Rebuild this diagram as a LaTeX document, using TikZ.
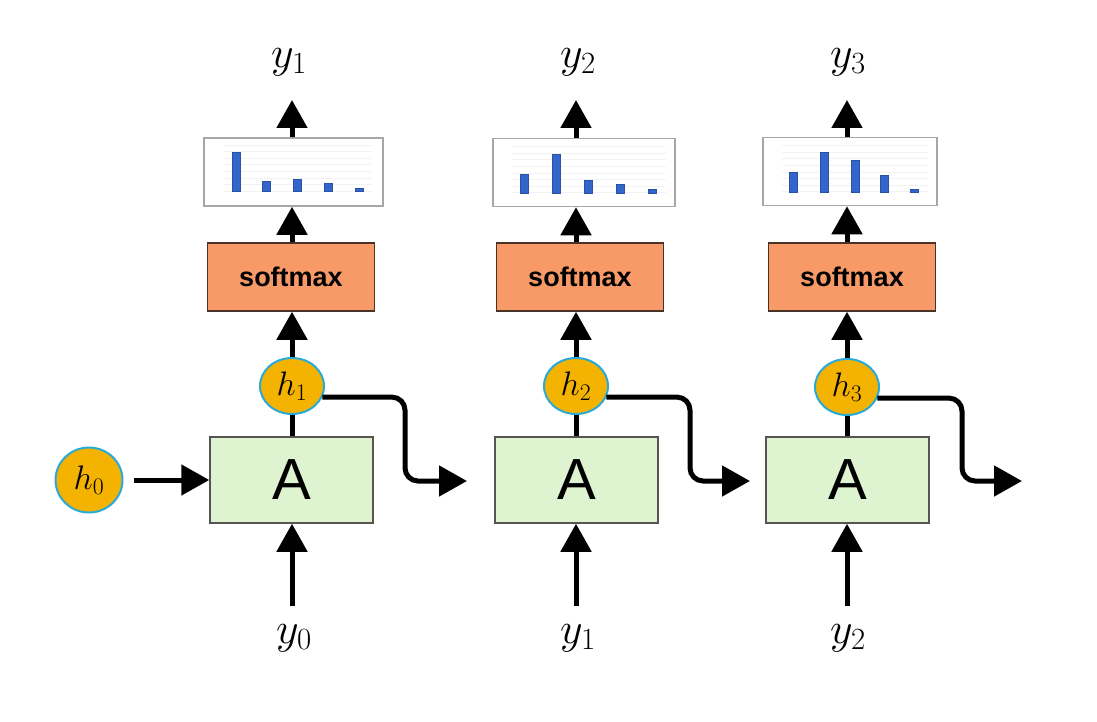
\RequirePackage{fix-cm}
\documentclass[tikz,border=0pt]{standalone}
\usepackage{fontspec}
\newfontfamily\sansA{Liberation Sans}
\usetikzlibrary{arrows.meta,shapes.geometric}
\definecolor{agreen}{HTML}{DEF3D0}
\definecolor{aborder}{HTML}{555555}
\definecolor{smfill}{HTML}{F89A68}
\definecolor{smborder}{HTML}{4A3326}
\definecolor{hfill}{HTML}{F4B300}
\definecolor{hborder}{HTML}{2AAAD8}
\definecolor{barblue}{HTML}{3366CC}
\tikzset{
  abox/.style={draw=aborder, fill=agreen, line width=1.5pt, minimum width=163pt, minimum height=86pt, inner sep=0pt, font=\sansA\fontsize{58}{60}\selectfont},
  smbox/.style={draw=smborder, fill=smfill, line width=1.5pt, minimum width=167pt, minimum height=68pt, inner sep=0pt, font=\sansA\bfseries\fontsize{27}{30}\selectfont},
  hnode/.style={ellipse, draw=hborder, fill=hfill, line width=2pt, minimum width=64pt, minimum height=56pt, inner sep=0pt, font=\fontsize{34}{36}\selectfont},
  chartbox/.style={draw=gray!70, fill=white, line width=1.5pt, minimum height=68pt, inner sep=0pt},
  lab/.style={font=\fontsize{44}{50}\selectfont, inner sep=0pt},
  arr/.style={line width=5pt, -{Triangle[length=28pt,width=30pt]}},
  ln/.style={line width=5pt},
  grid/.style={gray!10, line width=0.6pt},
  bar/.style={fill=barblue, draw=barblue!80!black, line width=0.5pt}
}
\begin{document}
\begin{tikzpicture}[x=1pt,y=-1pt]
\useasboundingbox (0,0) rectangle (1097,722);

% ---------- column nodes ----------
\node[abox] (A1) at (291.5,480) {A};
\node[abox] (A2) at (576.5,480) {A};
\node[abox] (A3) at (847.5,480) {A};

\node[hnode, minimum width=67pt, minimum height=65pt] (h0) at (89,480) {$h_0$};
\node[hnode] (h1) at (292,386) {$h_1$};
\node[hnode] (h2) at (576,386) {$h_2$};
\node[hnode] (h3) at (847,387) {$h_3$};

\node[smbox] (s1) at (291,277) {softmax};
\node[smbox] (s2) at (580,277) {softmax};
\node[smbox] (s3) at (852,277) {softmax};

\node[chartbox, minimum width=179pt] (c1) at (293.5,172) {};
\node[chartbox, minimum width=182pt] (c2) at (584,172.5) {};
\node[chartbox, minimum width=174pt] (c3) at (850,171.5) {};

\node[lab] (o1) at (289,62) {$y_1$};
\node[lab] (o2) at (578,62) {$y_2$};
\node[lab] (o3) at (848,62) {$y_3$};

\node[lab] (i1) at (294,638) {$y_0$};
\node[lab] (i2) at (578,638) {$y_1$};
\node[lab] (i3) at (848,638) {$y_2$};

% ---------- chart contents ----------
\foreach \yy in {145,151.6,158.2,164.8,171.4,178,184.6,191.2}{
  \draw[grid] (224,\yy) -- (372,\yy);
  \draw[grid] (512,\yy+1.5) -- (666,\yy+1.5);
  \draw[grid] (782,\yy+0.5) -- (928,\yy+0.5);
}
% chart 1
\foreach \bx/\bh in {236/39,266/10,297/12,328/8,359/3}{
  \draw[bar] (\bx-4,191) rectangle (\bx+4,191-\bh);
}
% chart 2
\foreach \bx/\bh in {524/19,556/39,588/13,620/9,652/4}{
  \draw[bar] (\bx-4,193) rectangle (\bx+4,193-\bh);
}
% chart 3
\foreach \bx/\bh in {793/20,824/40,855/32,884/17,914/3}{
  \draw[bar] (\bx-4,192) rectangle (\bx+4,192-\bh);
}

% ---------- coordinates ----------
\coordinate (u1) at (292,100);
\coordinate (u2) at (576,100);
\coordinate (u3) at (847,100);
\coordinate (b1) at (292,606);
\coordinate (b2) at (576,606);
\coordinate (b3) at (847,606);
\coordinate (v1) at (405,481);
\coordinate (v2) at (690,481);
\coordinate (v3) at (962,481);
\coordinate (t1) at (467,481);
\coordinate (t2) at (750,481);
\coordinate (t3) at (1022,481);

% ---------- connectors ----------
\draw[arr] (h0.east) ++(10,0) -- (A1.west);
\foreach \i in {1,2,3}{
  \draw[arr] (b\i) -- (b\i |- A\i.south);
  \draw[ln] (h\i.south |- A\i.north) -- (h\i.south);
  \draw[arr] (h\i.north) -- (h\i.north |- s\i.south);
  \draw[arr] (s\i.north -| h\i.north) -- (h\i.north |- c\i.south);
  \draw[arr] (h\i.north |- c\i.north) -- (u\i);
  \draw[arr, rounded corners=13pt] (h\i.-20) -| (v\i) -- (t\i);
}
\end{tikzpicture}
\end{document}
